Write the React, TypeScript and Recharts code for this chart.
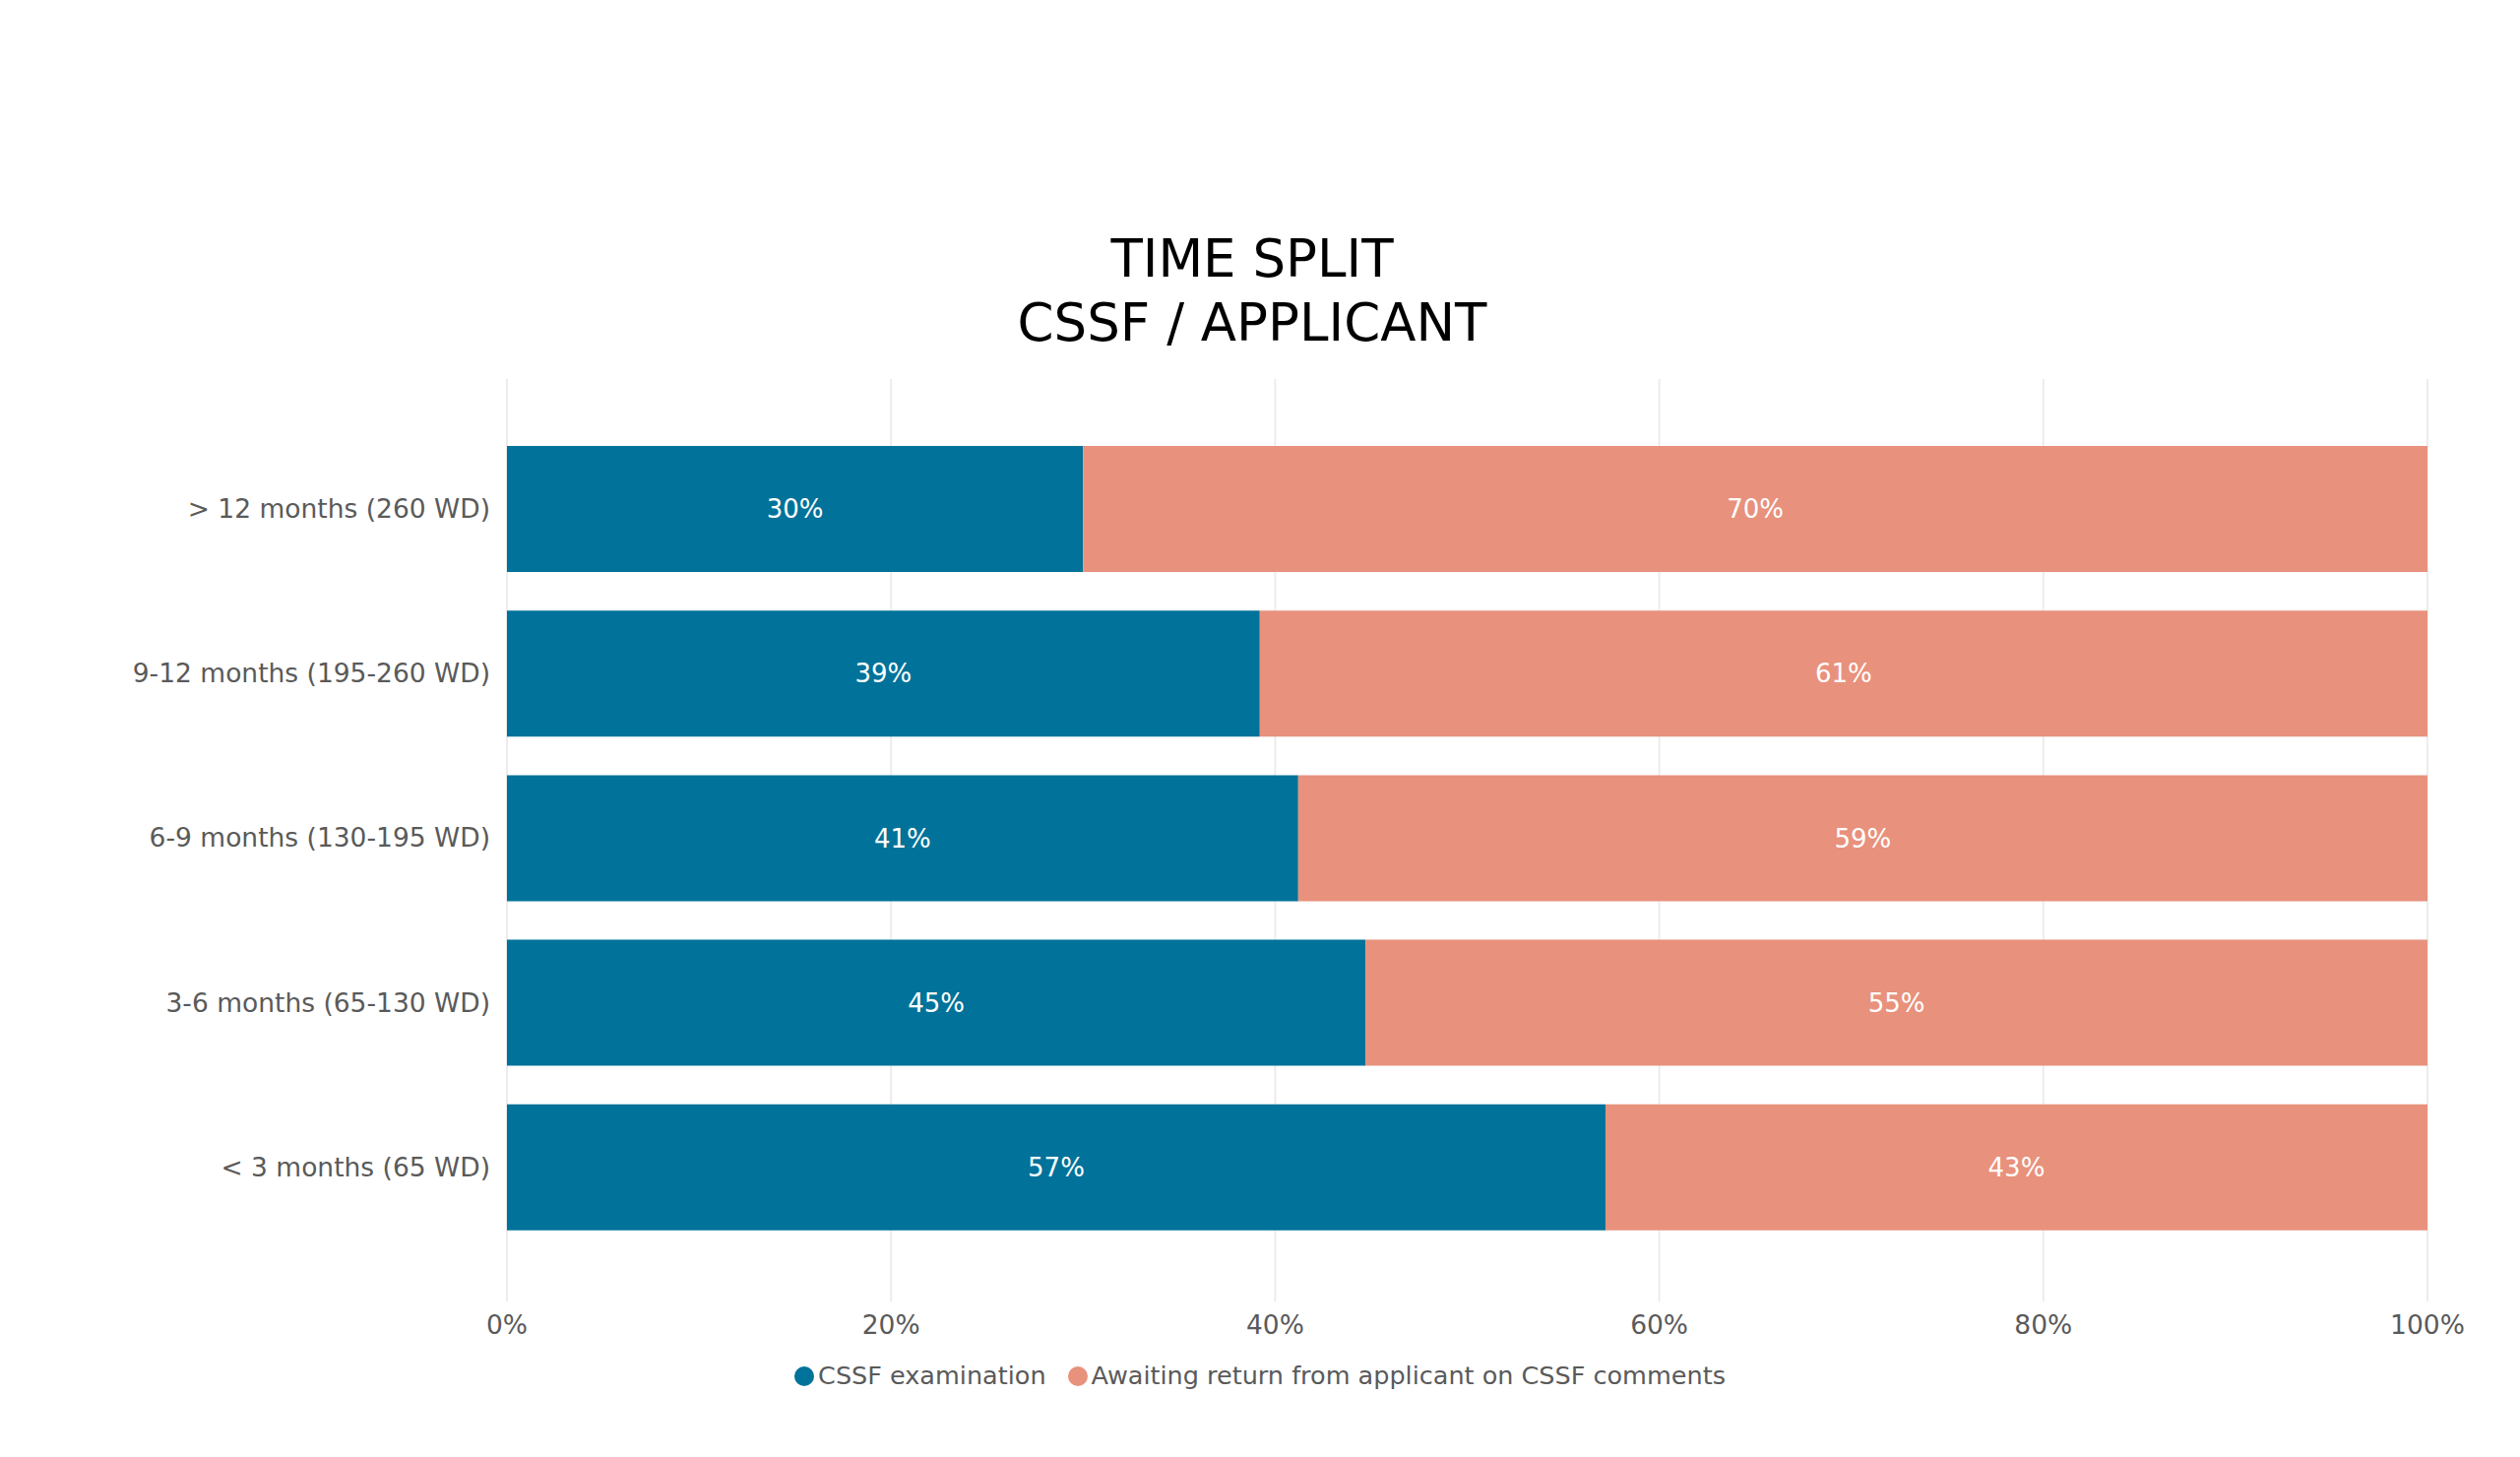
import { BarChart, Bar, XAxis, YAxis, CartesianGrid, Legend, LabelList } from "recharts";

const categories = [
    "> 12 months (260 WD)",
    "9-12 months (195-260 WD)",
    "6-9 months (130-195 WD)",
    "3-6 months (65-130 WD)",
    "< 3 months (65 WD)",
];
const cssfExamination = [30.0, 39.2, 41.2, 44.7, 57.2];
const awaitingApplicant = [70.0, 60.8, 58.8, 55.3, 42.8];
const xTicks = [0, 20, 40, 60, 80, 100];

const SERIES = [
    { key: "cssf", name: "CSSF examination", color: "#017299" },
    { key: "awaiting", name: "Awaiting return from applicant on CSSF comments", color: "#E8917C" },
];

const FONT = "'DejaVu Sans', Verdana, sans-serif";
const TEXT = "#5a5a5a";

const data = categories.map((name, i) => ({
    name,
    cssf: cssfExamination[i],
    awaiting: awaitingApplicant[i],
}));

function LegendRow() {
    return (
        <div style={{ height: 56, lineHeight: "50px", textAlign: "center", fontFamily: FONT, fontSize: 25.5, color: TEXT, whiteSpace: "nowrap" }}>
            {SERIES.map((s, i) => (
                <span key={s.key} style={{ marginLeft: i === 0 ? 0 : 22 }}>
                    <span style={{ display: "inline-block", width: 20, height: 20, borderRadius: 10, background: s.color, marginRight: 4, verticalAlign: "-2px" }} />
                    {s.name}
                </span>
            ))}
        </div>
    );
}

export default function App() {
    return (
        <div style={{ position: "relative", width: 2544, height: 1464, background: "#fff" }}>
            <div style={{ position: "absolute", top: 222, left: 0, width: 2528, textAlign: "center", fontFamily: FONT, fontSize: 53, lineHeight: "65px", color: "#000" }}>
                TIME SPLIT
                <br />
                CSSF / APPLICANT
            </div>
            <BarChart
                width={2544}
                height={1464}
                data={data}
                layout="vertical"
                margin={{ top: 377, right: 86, left: 0, bottom: 44 }}
                style={{ fontFamily: FONT }}
            >
                <CartesianGrid horizontal={false} stroke="#ececec" strokeWidth={2} />
                <XAxis
                    type="number"
                    domain={[0, 100]}
                    ticks={xTicks}
                    tickFormatter={(v) => `${v}%`}
                    axisLine={false}
                    tickLine={false}
                    tickSize={0}
                    tickMargin={14}
                    height={50}
                    tick={{ fill: TEXT, fontSize: 26.5, fontFamily: FONT }}
                />
                <YAxis
                    type="category"
                    dataKey="name"
                    width={507}
                    axisLine={false}
                    tickLine={false}
                    tickSize={0}
                    tickMargin={17}
                    padding={{ top: 48, bottom: 53 }}
                    tick={{ fill: TEXT, fontSize: 26.5, fontFamily: FONT }}
                />
                <Legend
                    verticalAlign="bottom"
                    align="center"
                    wrapperStyle={{ left: 0, width: 2544 }}
                    content={() => <LegendRow />}
                />
                {SERIES.map((s) => (
                    <Bar key={s.key} dataKey={s.key} name={s.name} stackId="a" fill={s.color} barSize={128} isAnimationActive={false}>
                        <LabelList
                            dataKey={s.key}
                            position="center"
                            fill="#fff"
                            fontSize={26}
                            fontFamily={FONT}
                            formatter={(v: number) => `${Math.round(v)}%`}
                        />
                    </Bar>
                ))}
            </BarChart>
        </div>
    );
}
